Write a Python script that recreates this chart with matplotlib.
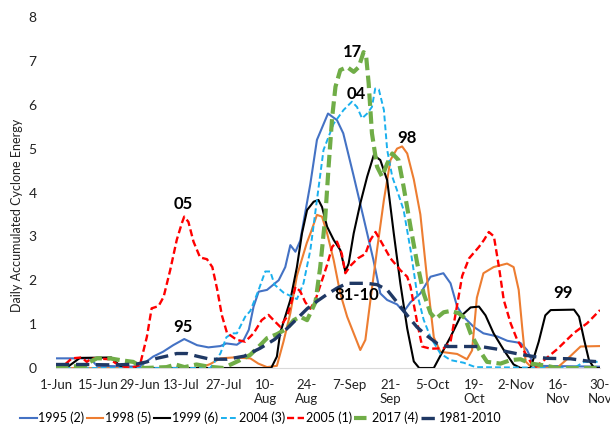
import matplotlib
matplotlib.use("Agg")
import matplotlib.pyplot as plt

plt.rcParams['font.family'] = ['Lato', 'DejaVu Sans']

# days counted from 1-Jun
tick_days = [0, 14, 28, 42, 56, 70, 84, 98, 112, 126, 140, 154, 168, 182]
tick_labels = ['1-Jun', '15-Jun', '29-Jun', '13-Jul', '27-Jul', '10-\nAug', '24-\nAug',
               '7-Sep', '21-\nSep', '5-Oct', '19-\nOct', '2-Nov', '16-\nNov', '30-\nNov']

d1995 = [0, 11.4, 13.7, 28, 32.5, 35.8, 39.2, 42.9, 47.2, 51, 55, 57, 60.5, 62.8, 64.5, 66.1,
         67.8, 70.6, 74.5, 76.7, 78.4, 80.1, 81.7, 85.1, 87.3, 91, 94, 96.1, 99.5, 102.8, 106.2,
         108.5, 110.8, 114.1, 116.3, 118.6, 121.9, 125.3, 129.6, 132, 134.2, 136.3, 139.7, 143,
         147.6, 151, 155.4, 157.6, 160, 182]
v1995 = [0.22, 0.22, 0.05, 0.03, 0.26, 0.37, 0.52, 0.66, 0.52, 0.47, 0.5, 0.56, 0.53, 0.64, 0.87, 1.4,
         1.74, 1.78, 2.0, 2.3, 2.8, 2.65, 2.9, 4.2, 5.2, 5.8, 5.65, 5.35, 4.4, 3.45, 2.46,
         1.7, 1.55, 1.45, 1.28, 1.5, 1.7, 2.08, 2.16, 1.93, 1.4, 1.17, 0.94, 0.79,
         0.72, 0.62, 0.57, 0.41, 0.05, 0.03]

d1998 = [0, 48, 51.6, 55, 59.3, 65, 67.7, 70.6, 73.9, 76.1, 78.4, 80.6, 83.9, 85.3, 87.3, 89,
         90.7, 92.9, 95.1, 97.4, 99.6, 101.8, 103.5, 105.2, 107.4, 109.7, 111.9, 114.1, 115.8,
         117.5, 119.7, 121.9, 124.2, 126.4, 128.6, 134.2, 137.5, 139.2, 140.8, 143, 146.4, 150.9,
         153.1, 154.8, 156, 157.1, 159.3, 167.6, 171.3, 175.5, 182]
v1998 = [0, 0, 0.09, 0.22, 0.24, 0.22, 0.1, 0.02, 0.05, 0.6, 1.25, 2.1, 2.85, 3.1, 3.49, 3.45,
         3.07, 2.46, 1.7, 1.17, 0.79, 0.41, 0.64, 1.55, 2.69, 3.83, 4.74, 5.0, 5.05,
         4.89, 4.3, 3.5, 2.0, 0.7, 0.37, 0.32, 0.2, 0.4, 1.6, 2.16, 2.3, 2.38,
         2.3, 1.78, 0.9, 0.15, 0.0, 0.0, 0.22, 0.49, 0.5]

d1999 = [0, 4, 8, 18.5, 20.6, 22.5, 72, 73.9, 75, 78.4, 80.6, 82.3, 84, 86.2, 87.8, 89, 90.7,
         92.9, 95.1, 96.8, 97.9, 99.6, 101.8, 104.1, 106.3, 108.5, 110.8, 113, 115.2, 117.5,
         119.7, 121.5, 126.4, 128.6, 132, 135.3, 138.7, 141.5, 143.7, 146.4, 149.8, 153.1,
         155.4, 158.8, 161.5, 163.7, 165.5, 173.3, 175, 176.7, 178.3, 180, 182]
v1999 = [0, 0.03, 0.23, 0.24, 0.1, 0, 0, 0.26, 0.8, 1.55, 2.3, 3.07, 3.6, 3.79, 3.83, 3.67, 3.22,
         2.92, 2.69, 2.2, 2.38, 3.07, 3.75, 4.36, 4.85, 4.74, 4.28, 3.07, 1.93, 0.9,
         0.15, 0, 0, 0.28, 0.71, 1.17, 1.38, 1.4, 1.2, 0.79, 0.41, 0.08,
         0, 0, 0.6, 1.2, 1.32, 1.33, 1.17, 0.64, 0.18, 0, 0]

d2004 = [0, 51.6, 55, 57, 59, 60.5, 63.3, 65, 67.8, 70, 71.7, 73.1, 76.1, 80.6, 82.8, 85.1, 87.3,
         89.5, 92.9, 96.2, 99, 100.7, 102.4, 104.1, 105.7, 106.8, 108, 109.7, 110.8, 112.5,
         114.1, 116.3, 118.6, 120.8, 123, 125.3, 128.6, 132, 136.4, 140.3, 173.3, 176.7, 182]
v2004 = [0, 0, 0.33, 0.7, 0.79, 0.79, 1.17, 1.3, 1.78, 2.2, 2.2, 1.9, 1.72, 1.57, 1.93, 2.69, 3.83,
         4.97, 5.57, 5.88, 6.07, 5.95, 5.69, 5.8, 5.95, 6.37, 6.35, 5.88, 4.97, 4.36,
         4.05, 3.6, 2.7, 1.7, 1.1, 0.7, 0.33, 0.18, 0.12, 0.02, 0.0, 0.14, 0.14]

d2005 = [0, 2.5, 5.3, 8.6, 10.3, 12, 18, 21.3, 25, 28.1, 30.4, 32, 34.3, 36, 38.2, 40.4, 42.1,
         42.9, 44.3, 46, 48.2, 50.5, 52.3, 53.9, 55.5, 57.2, 60.5, 63.3, 66.1, 68.8, 71.1, 72.8,
         75, 77.3, 79, 80.1, 81.7, 83.4, 85.1, 86.8, 89, 90.7, 92.4, 94, 95.6, 96.8, 98.5, 101,
         103.5, 105.2, 106.9, 109.1, 111.9, 115.2, 117.5, 118.6, 120.8, 122.5, 125.3, 129.7,
         132, 133.6, 135.9, 138.2, 141.5, 143.2, 144.8, 146.5, 148.2, 149.8, 152.1, 154.3,
         157.7, 160, 163.3, 167.7, 173.3, 177.7, 182]
v2005 = [0, 0.05, 0.22, 0.24, 0.14, 0.22, 0.2, 0.05, 0, 0.07, 0.71, 1.36, 1.41, 1.62, 2.23, 2.92, 3.3,
         3.45, 3.33, 2.88, 2.52, 2.48, 2.3, 1.8, 1.2, 0.8, 0.64, 0.6, 0.79, 1.09, 1.21, 1.09,
         0.94, 1.17, 1.55, 1.85, 1.75, 1.5, 1.35, 1.55, 2.0, 2.35, 2.76, 2.88, 2.61, 2.16, 2.33, 2.5,
         2.6, 2.92, 3.1, 2.84, 2.5, 2.23, 2.08, 1.85, 1.05, 0.49, 0.44, 0.45,
         0.6, 1.2, 2.1, 2.5, 2.76, 2.92, 3.1, 3.0, 2.3, 1.55, 1.02, 0.64,
         0.26, 0, 0.18, 0.43, 0.8, 1.02, 1.32]

d2017 = [0, 10, 11.4, 13.7, 18, 22.4, 25.8, 28.1, 29.5, 37, 40, 43, 47, 51, 56, 61.6, 65, 68.3,
         70.6, 73.9, 77.3, 79.5, 81.7, 84, 86.8, 88.4, 90.1, 91.2, 92.4, 93.5, 95.1, 97.4, 99.6,
         101.3, 102.9, 103.7, 104.6, 105.7, 107.4, 109.1, 110.8, 112.5, 114.6, 116.3, 118.6,
         120.8, 123, 125.3, 127, 129.7, 132, 134.7, 136.9, 138.7, 142, 144.2, 148.7, 152.1,
         155.4, 158.8, 163.3, 167.7, 182]
v2017 = [0.02, 0.05, 0.14, 0.22, 0.22, 0.17, 0.14, 0.05, 0, 0.02, 0.08, 0.02, 0.08, 0.03, 0, 0.18, 0.3, 0.52,
         0.68, 0.77, 0.9, 1.09, 1.17, 1.09, 1.5, 2.3, 3.45, 4.59, 5.72, 6.41, 6.79, 6.86, 6.75,
         6.86, 7.2, 7.15, 6.49, 5.35, 4.59, 4.36, 4.66, 4.89, 4.74, 4.13, 3.22,
         2.4, 1.7, 1.25, 1.12, 1.27, 1.3, 1.25, 1.13, 0.79, 0.37, 0.14, 0.1, 0.18,
         0.2, 0.1, 0.06, 0, 0]

dnorm = [0, 10, 20, 27, 30.4, 33.7, 37, 40.4, 43.8, 47.1, 51.6, 57.2, 63, 68.3, 73.1, 77.3, 80.6,
         84, 87.3, 90.7, 94, 97.4, 104, 107.4, 110.8, 114.1, 117.5, 120.8, 124.2, 127.5, 130.9,
         142, 147.6, 151, 155.4, 159.9, 164.3, 172.2, 177.7, 182]
vnorm = [0.08, 0.08, 0.07, 0.09, 0.14, 0.22, 0.27, 0.33, 0.33, 0.27, 0.2, 0.2, 0.27, 0.45, 0.65, 0.9, 1.12,
         1.35, 1.52, 1.68, 1.82, 1.93, 1.93, 1.9, 1.78, 1.5, 1.2, 0.93, 0.73, 0.56, 0.49,
         0.49, 0.43, 0.37, 0.31, 0.26, 0.22, 0.21, 0.16, 0.14]

# labels placed next to peaks (day, value)
notes = ['05', '95', '17', '04', '98', '81-10', '99']
note_x = [42.5, 42.5, 99.2, 100.5, 117.3, 100.5, 169.5]
note_y = [3.74, 0.93, 7.2, 6.24, 5.25, 1.66, 1.72]

fig = plt.figure(figsize=(6.1, 4.33), dpi=100)
ax = fig.add_axes([56 / 610, 1 - 368 / 433, 544 / 610, 351 / 433])

ax.plot(d1995, v1995, color='#4472C4', lw=1.5, label='1995 (2)')
ax.plot(d1998, v1998, color='#ED7D31', lw=1.5, label='1998 (5)')
ax.plot(d1999, v1999, color='black', lw=1.5, label='1999 (6)')
ax.plot(d2004, v2004, color='#1AB0EE', lw=1.4, dashes=(3, 1.6), label='2004 (3)')
ax.plot(d2005, v2005, color='#FF0000', lw=1.7, dashes=(3, 1.5), label='2005 (1)')
ax.plot(d2017, v2017, color='#70AD47', lw=3.0, dashes=(3, 1.3), label='2017 (4)')
ax.plot(dnorm, vnorm, color='#1F3864', lw=2.4, dashes=(4, 2), label='1981-2010')

for t, x, y in zip(notes, note_x, note_y):
    ax.text(x, y, t, fontsize=12, fontweight='bold', ha='center', va='center', color='black')

ax.set_xlim(0, 182)
ax.set_ylim(0, 8)
ax.set_xticks(tick_days)
ax.set_xticklabels(tick_labels)
ax.set_yticks(range(0, 9))
ax.tick_params(axis='both', length=0, labelsize=9.5, colors='#222222')
ax.tick_params(axis='y', labelsize=10, pad=14)
ax.tick_params(axis='x', pad=8)
for s in ['top', 'right', 'left']:
    ax.spines[s].set_visible(False)
ax.spines['bottom'].set_color('#D9D9D9')
ax.set_ylabel('Daily Accumulated Cyclone Energy', fontsize=9, color='#222222')
ax.yaxis.set_label_coords(-0.06, 0.436)

fig.legend(loc='center', bbox_to_anchor=(0.428, 0.035), ncol=7, frameon=False, fontsize=9,
           handlelength=1.3, handletextpad=0.15, columnspacing=0.2)

fig.savefig('out.png', dpi=100)
